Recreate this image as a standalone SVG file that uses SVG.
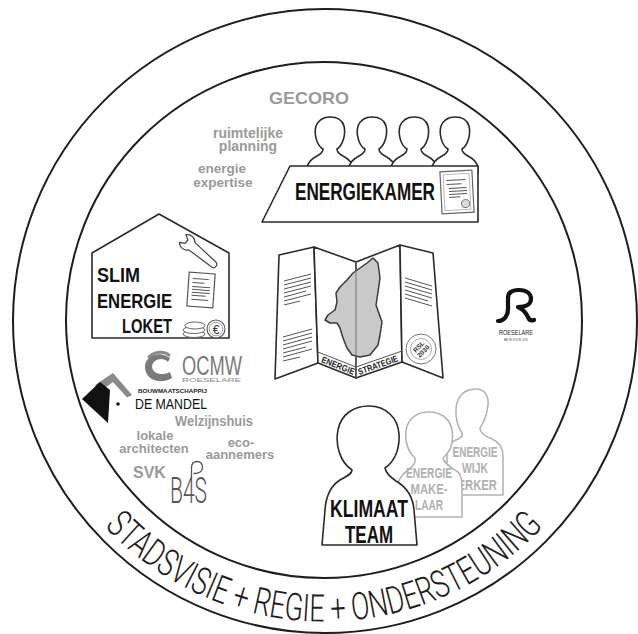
<svg xmlns="http://www.w3.org/2000/svg" xmlns:xlink="http://www.w3.org/1999/xlink" width="638" height="634" viewBox="0 0 638 634">
  <style>
    .ring { fill: none; stroke: #1e1e1e; stroke-width: 2; }
    .ol { fill: #fff; stroke: #2a2a2a; stroke-width: 1.6; stroke-linejoin: round; }
    .ol-mid { fill: #fff; stroke: #b4b4b4; stroke-width: 1.6; stroke-linejoin: round; }
    .bold { font-family: "Liberation Sans", Arial, sans-serif; font-weight: bold; }
    .grey { fill: #9a9a9a; }
    .light { fill: #b0b0b0; }
    .ink { fill: #111; }
    .rule { stroke: #555; stroke-width: 1; fill: none; }
    .arc-text { font-family: Roboto, "Liberation Sans", sans-serif; font-weight: 300; font-size: 38px; fill: #1e1e1e; }
  </style>
  <defs>
    <!-- seated council member, origin at top of head -->
    <path id="member" d="M -7,31 C -14,27 -16,15 -14,8 C -11,1 -5,-1 0,-1 C 6,-1 12,1 14,8 C 16,16 13,27 7,31 C 7,34 9,36 13,38 C 19,41 23,45 23,51 L 23,56 L -23,56 L -23,51 C -23,45 -19,41 -13,38 C -9,36 -7,34 -7,31 Z"/>
    <path id="ring-path" d="M 63,470.5 A 301,301 0 0 0 585,470.5"/>
  </defs>

  <rect width="638" height="634" fill="#fff"/>

  <!-- rings -->
  <g id="rings">
    <circle class="ring" cx="325" cy="321" r="312"/>
    <circle class="ring" cx="324" cy="320" r="258"/>
    <text class="arc-text"><textPath xlink:href="#ring-path" href="#ring-path" startOffset="50%" text-anchor="middle" textLength="492" lengthAdjust="spacingAndGlyphs">STADSVISIE + REGIE + ONDERSTEUNING</textPath></text>
  </g>

  <!-- advisory bodies -->
  <g id="gecoro">
    <text class="bold grey" x="269" y="104" font-size="17" textLength="80" lengthAdjust="spacingAndGlyphs">GECORO</text>
    <text class="bold grey" x="248" y="138" font-size="14" text-anchor="middle">ruimtelijke</text>
    <text class="bold grey" x="248" y="151" font-size="14" text-anchor="middle">planning</text>
    <text class="bold grey" x="222" y="173" font-size="13.5" text-anchor="middle">energie</text>
    <text class="bold grey" x="223" y="187" font-size="13.5" text-anchor="middle">expertise</text>
  </g>

  <!-- energy chamber: four members behind a table -->
  <g id="energiekamer">
    <use href="#member" xlink:href="#member" class="ol" x="330" y="118"/>
    <use href="#member" xlink:href="#member" class="ol" x="372" y="118"/>
    <use href="#member" xlink:href="#member" class="ol" x="414" y="118"/>
    <use href="#member" xlink:href="#member" class="ol" x="455" y="118"/>
    <polygon class="ol" points="290,166 478,166 478,222 262,222"/>
    <text class="bold ink" x="295" y="200" font-size="23" textLength="140" lengthAdjust="spacingAndGlyphs">ENERGIEKAMER</text>
    <g transform="rotate(-3 457 192)">
      <rect x="441" y="171" width="32" height="42" fill="#fff" stroke="#666" stroke-width="1.2"/>
      <rect x="444" y="174" width="26" height="36" fill="none" stroke="#aaa" stroke-width="0.8"/>
      <path class="rule" d="M 447,180 H 466 M 447,184 H 462 M 449,188 H 467 M 449,191 H 467 M 449,194 H 467 M 449,197 H 460" stroke-width="0.9"/>
      <circle cx="465" cy="204" r="4" fill="#ddd" stroke="#555" stroke-width="0.8"/>
    </g>
  </g>

  <!-- energy desk house -->
  <g id="energieloket">
    <polygon class="ol" points="159,214 229,253 229,338 92,338 92,253"/>
    <text class="bold ink" x="97" y="282" font-size="21" textLength="43" lengthAdjust="spacingAndGlyphs">SLIM</text>
    <text class="bold ink" x="97" y="308" font-size="21" textLength="75" lengthAdjust="spacingAndGlyphs">ENERGIE</text>
    <text class="bold ink" x="122" y="333" font-size="21" textLength="50" lengthAdjust="spacingAndGlyphs">LOKET</text>
    <g transform="translate(200 253) rotate(40) scale(1.1)">
      <path d="M -20.5,-4.5 L -16,-2 L -16,2 L -20.5,4.5 A 7,7 0 0 0 -9.5,4.3 L 16,3 A 3,3 0 0 0 16,-3 L -9.5,-4.3 A 7,7 0 0 0 -20.5,-4.5 Z" fill="#fff" stroke="#444" stroke-width="1.1" stroke-linejoin="round"/>
    </g>
    <g transform="rotate(4 201 290)">
      <rect x="188" y="273" width="26" height="34" fill="#fff" stroke="#555" stroke-width="1.2"/>
      <path class="rule" d="M 192,279 H 208 M 192,283 H 204 M 192,287 H 210 M 192,290 H 210 M 192,293 H 210 M 192,296 H 206 M 192,300 H 209" stroke-width="0.9"/>
    </g>
    <ellipse cx="194" cy="334" rx="11" ry="3.5" fill="#fff" stroke="#666" stroke-width="1"/>
    <ellipse cx="194" cy="330" rx="11" ry="3.5" fill="#fff" stroke="#666" stroke-width="1"/>
    <ellipse cx="195" cy="325.5" rx="10" ry="3.5" fill="#fff" stroke="#666" stroke-width="1"/>
    <circle cx="216" cy="329" r="9" fill="#fff" stroke="#555" stroke-width="1.1"/>
    <circle cx="216" cy="329" r="6.8" fill="none" stroke="#888" stroke-width="0.8"/>
    <text x="216" y="333.5" font-family="Liberation Sans, Arial, sans-serif" font-size="12" fill="#333" text-anchor="middle">€</text>
  </g>

  <!-- energy strategy folded map -->
  <g id="energiestrategie">
    <polygon class="ol" points="279,255 314,247 318,363 275,379"/>
    <polygon class="ol" points="314,247 356,262 356,378 318,363"/>
    <polygon class="ol" points="356,262 400,245 402,362 356,378"/>
    <polygon class="ol" points="400,245 433,253 443,378 402,362"/>
    <path class="rule" d="M 284,281 L 311,274 M 284,285 L 311,278 M 284,289 L 311,282 M 284,293 L 311,286 M 284,297 L 306,291 M 284,301 L 311,294 M 284,305 L 300,301"/>
    <path class="rule" d="M 283,337 L 312,329 M 283,341 L 312,333 M 283,345 L 312,337 M 283,349 L 312,341 M 283,353 L 306,347 M 283,357 L 312,349 M 283,361 L 300,357"/>
    <path class="rule" d="M 405,278 L 432,286 M 405,282 L 432,290 M 405,286 L 432,294 M 405,290 L 432,298 M 405,294 L 428,301 M 405,298 L 432,306"/>
    <path d="M 373,258 L 378,263 L 380,278 L 378,292 L 376,305 L 382,322 L 380,335 L 378,345 L 370,355 L 360,357 L 352,355 L 347,348 L 343,338 L 340,328 L 337,323 L 330,323 L 325,320 L 328,315 L 335,310 L 337,302 L 336,293 L 340,287 L 347,280 L 353,273 L 360,268 L 367,263 Z" fill="#c9c9c9" stroke="#3a3a3a" stroke-width="1.5" stroke-linejoin="round"/>
    <line x1="356" y1="262" x2="356" y2="378" stroke="#777" stroke-width="1"/>
    <path class="rule" d="M 318,352 L 356,367 L 402,351" stroke="#333"/>
    <text class="bold" fill="#222" font-size="9" text-anchor="middle" transform="translate(337 368.5) rotate(21.5)" textLength="35" lengthAdjust="spacingAndGlyphs">ENERGIE</text>
    <text class="bold" fill="#222" font-size="9" text-anchor="middle" transform="translate(379 368) rotate(-19.5)" textLength="42" lengthAdjust="spacingAndGlyphs">STRATEGIE</text>
    <circle cx="421" cy="349" r="15" fill="none" stroke="#777" stroke-width="1"/>
    <circle cx="421" cy="349" r="10.5" fill="none" stroke="#999" stroke-width="0.8"/>
    <g transform="rotate(-45 421 349)">
      <text class="bold" x="421" y="348" font-size="6.5" fill="#333" text-anchor="middle">RSL</text>
      <text class="bold" x="421" y="354.5" font-size="6.5" fill="#333" text-anchor="middle">2030</text>
    </g>
  </g>

  <!-- city logo -->
  <g id="roeselare" transform="translate(-8 0)">
    <path d="M 506,321 C 512,321 516,316 516,309 L 516,298 C 516,292 520,290 527,290 C 535,290 539,294 539,299 C 539,304 534,307 526,307 C 531,309 534,313 536,317 C 537,320 539,321 542,320" fill="none" stroke="#111" stroke-width="4.2" stroke-linecap="round" stroke-linejoin="round"/>
    <text x="524" y="335" font-family="Liberation Sans, Arial, sans-serif" font-size="7.5" fill="#222" text-anchor="middle" textLength="34" lengthAdjust="spacingAndGlyphs">ROESELARE</text>
    <text x="524" y="341" font-family="Liberation Sans, Arial, sans-serif" font-size="3.5" fill="#444" text-anchor="middle" textLength="24" lengthAdjust="spacingAndGlyphs">BE IN VOOR JOU</text>
  </g>

  <!-- partner organisations -->
  <g id="ocmw">
    <path d="M 170,358 C 160,350 144,355 145,368 C 146,380 160,385 172,378 L 170,372 C 162,376 153,374 152,367 C 152,360 162,356 168,362 Z" fill="#7a7a7a"/>
    <path d="M 149,357 C 155,351 164,351 169,355" fill="none" stroke="#8a8a8a" stroke-width="3" stroke-linecap="round"/>
    <text x="182" y="375" font-family="Liberation Sans, Arial, sans-serif" font-size="27" fill="#7a7a7a" textLength="60" lengthAdjust="spacingAndGlyphs">OCMW</text>
    <text x="182" y="381.5" font-family="Liberation Sans, Arial, sans-serif" font-size="6" fill="#8a8a8a" textLength="59" lengthAdjust="spacingAndGlyphs">ROESELARE</text>
  </g>

  <g id="de-mandel">
    <polygon points="95,385 113,373 132,395 127,397.5 113,382 102,390" fill="#8a8a8a"/>
    <polygon points="82,399 100,382 110,390 108,423" fill="#111"/>
    <circle cx="118" cy="404" r="1.8" fill="#111"/>
    <text class="bold" x="138" y="393" font-size="5.5" fill="#222" textLength="69" lengthAdjust="spacingAndGlyphs">BOUWMAATSCHAPPIJ</text>
    <text x="135" y="409" font-family="Liberation Sans, Arial, sans-serif" font-size="14.5" fill="#111" textLength="72" lengthAdjust="spacingAndGlyphs">DE MANDEL</text>
  </g>

  <g id="partners">
    <text class="bold grey" x="175" y="426" font-size="14" textLength="78" lengthAdjust="spacingAndGlyphs">Welzijnshuis</text>
    <text class="bold grey" x="155" y="440" font-size="13" text-anchor="middle">lokale</text>
    <text class="bold grey" x="154" y="453" font-size="13" text-anchor="middle">architecten</text>
    <text class="bold grey" x="241" y="447" font-size="13" text-anchor="middle">eco-</text>
    <text class="bold grey" x="240" y="459" font-size="13" text-anchor="middle">aannemers</text>
    <text class="bold grey" x="133" y="478" font-size="16">SVK</text>
  </g>

  <g id="bas">
    <path d="M 191.5,478 L 191.5,468 C 191.5,463.5 194,461.5 197,461.5 C 200.5,461.5 202.5,464 202.5,467.5 C 202.5,471 199.5,473.5 194,473.5" fill="none" stroke="#555" stroke-width="1.3" stroke-linecap="round"/>
    <text x="170" y="503" font-family="Roboto, 'Liberation Sans', sans-serif" font-weight="300" font-size="36" fill="#555" textLength="37" lengthAdjust="spacingAndGlyphs">B4S</text>
  </g>

  <!-- climate team: back to front -->
  <g id="energiewijkwerker">
    <path class="ol-mid" d="M 462,433 C 456,424 454,410 458,400 C 462,391 470,389 476,389 C 484,389 489,395 488,405 C 487,414 484,422 480,428 C 480,433 484,436 492,439 C 499,442 503,448 503,456 L 503,495 L 447,495 L 447,456 C 447,447 452,441 458,439 C 462,437 463,435 462,433 Z"/>
    <text class="bold light" x="475" y="457" font-size="14" text-anchor="middle" textLength="45" lengthAdjust="spacingAndGlyphs">ENERGIE</text>
    <text class="bold light" x="475" y="473" font-size="14" text-anchor="middle" textLength="26" lengthAdjust="spacingAndGlyphs">WIJK</text>
    <text class="bold light" x="447" y="490" font-size="14" textLength="50" lengthAdjust="spacingAndGlyphs">WERKER</text>
  </g>

  <g id="energiemakelaar">
    <path class="ol-mid" d="M 415,458 C 406,450 404,436 407,426 C 411,416 420,412 429,412 C 440,412 450,418 452,430 C 454,442 450,452 443,458 C 444,464 452,468 458,472 C 462,476 462,482 462,490 L 462,517 L 397,517 L 397,490 C 397,480 402,474 408,470 C 413,466 416,463 415,458 Z"/>
    <text class="bold light" x="429" y="478" font-size="14" text-anchor="middle" textLength="46" lengthAdjust="spacingAndGlyphs">ENERGIE</text>
    <text class="bold light" x="429" y="494" font-size="14" text-anchor="middle" textLength="37" lengthAdjust="spacingAndGlyphs">MAKE-</text>
    <text class="bold light" x="429" y="510" font-size="14" text-anchor="middle" textLength="28" lengthAdjust="spacingAndGlyphs">LAAR</text>
  </g>

  <g id="klimaatteam">
    <path class="ol" d="M 352,470 C 340,462 335,445 338,430 C 341,414 354,406 369,406 C 386,406 398,418 399,434 C 400,450 394,462 385,468 C 386,473 390,477 396,481 C 408,488 413,497 414,510 L 417,545 L 322,545 L 325,510 C 326,495 332,485 340,480 C 347,476 352,474 352,470 Z"/>
    <text class="bold ink" x="369" y="517" font-size="23" text-anchor="middle" textLength="78" lengthAdjust="spacingAndGlyphs">KLIMAAT</text>
    <text class="bold ink" x="369" y="543" font-size="23" text-anchor="middle" textLength="48" lengthAdjust="spacingAndGlyphs">TEAM</text>
  </g>
</svg>
